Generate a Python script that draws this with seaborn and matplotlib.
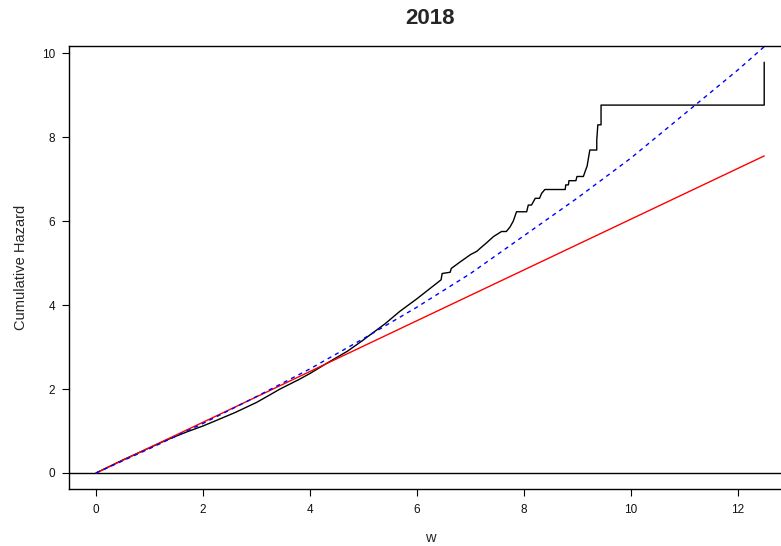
import matplotlib
matplotlib.use("Agg")
import matplotlib.pyplot as plt
import seaborn as sns
import numpy as np

# ---- data ----
title = "2018"
x_label = "w"
y_label = "Cumulative Hazard"
x_ticks = [0, 2, 4, 6, 8, 10, 12]
y_ticks = [0, 2, 4, 6, 8, 10]

# empirical cumulative hazard (black step path)
emp_w = [0.0, 0.5, 1.0, 1.32, 1.7, 2.0, 2.19, 2.6, 3.0, 3.25, 3.44, 3.8, 4.0, 4.31,
         4.7, 5.0, 5.06, 5.4, 5.68, 6.0, 6.2, 6.45, 6.47, 6.62, 6.64, 6.8, 7.0, 7.12,
         7.18, 7.3, 7.43, 7.58, 7.67, 7.74, 7.80, 7.86, 8.05, 8.08, 8.14, 8.21, 8.29,
         8.33, 8.39, 8.77, 8.78, 8.83, 8.84, 8.97, 8.99, 9.11, 9.14, 9.18, 9.23, 9.36,
         9.36, 9.38, 9.44, 9.44, 12.49, 12.49]
emp_h = [0.0, 0.31, 0.6, 0.786, 0.98, 1.12, 1.22, 1.44, 1.68, 1.86, 2.0, 2.23, 2.37, 2.61,
         2.9, 3.17, 3.23, 3.55, 3.85, 4.15, 4.35, 4.6, 4.75, 4.78, 4.87, 5.02, 5.2, 5.28,
         5.35, 5.48, 5.63, 5.75, 5.75, 5.86, 6.0, 6.22, 6.22, 6.38, 6.38, 6.54, 6.54,
         6.66, 6.75, 6.75, 6.86, 6.86, 6.96, 6.96, 7.06, 7.06, 7.17, 7.31, 7.69, 7.69,
         7.93, 8.29, 8.29, 8.76, 8.76, 9.78]

# fitted exponential model (red straight line)
exp_w = [0.0, 12.49]
exp_h = [0.0, 7.55]

# fitted Weibull-type model (blue dashed curve)
wei_w = [0.0, 1.0, 2.0, 3.0, 4.0, 5.0, 6.0, 7.0, 8.0, 9.0, 10.0, 11.0, 12.0, 12.49]
wei_h = [0.0, 0.58, 1.18, 1.82, 2.48, 3.2, 3.95, 4.75, 5.65, 6.55, 7.5, 8.55, 9.6, 10.15]

# ---- plotting ----
sns.set_style("ticks")
plt.rcParams["font.family"] = ["Liberation Sans", "DejaVu Sans"]

fig = plt.figure(figsize=(7.81, 5.46), dpi=100)
ax = fig.add_axes([69 / 781, 57 / 546, (791.5 - 69) / 781, (489 - 46) / 546])

ax.axhline(0, color="black", lw=1.0, zorder=1)
sns.lineplot(x=emp_w, y=emp_h, estimator=None, sort=False, color="black", lw=1.0, ax=ax)
sns.lineplot(x=exp_w, y=exp_h, estimator=None, sort=False, color="#ff0000", lw=1.0, ax=ax)
sns.lineplot(x=wei_w, y=wei_h, estimator=None, sort=False, color="#0000ff", lw=1.0,
             linestyle=(0, (3, 3)), ax=ax)

ax.set_xlim(-0.505, 13.0)
ax.set_ylim(-0.381, 10.167)
ax.set_xticks(x_ticks)
ax.set_yticks(y_ticks)
ax.set_xticklabels([str(t) for t in x_ticks])
ax.set_yticklabels([str(t) for t in y_ticks])
ax.tick_params(axis="both", direction="out", length=5, width=0.8, labelsize=8.5,
               color="black", labelcolor="#111111")
ax.tick_params(axis="x", pad=5.5)
ax.tick_params(axis="y", pad=5)

for s in ax.spines.values():
    s.set_color("black")
    s.set_linewidth(1.0)

ax.set_xlabel(x_label, fontsize=10.5)
ax.set_ylabel(y_label, fontsize=10.5)
ax.xaxis.set_label_coords(0.5, -0.095)
ax.yaxis.set_label_coords(-0.057, 0.5)

fig.text((69 + 791.5) / 2 / 781, 1 - 18 / 546, title, ha="center", va="center",
         fontsize=16, fontweight="bold")

fig.savefig("out.png", dpi=100)
